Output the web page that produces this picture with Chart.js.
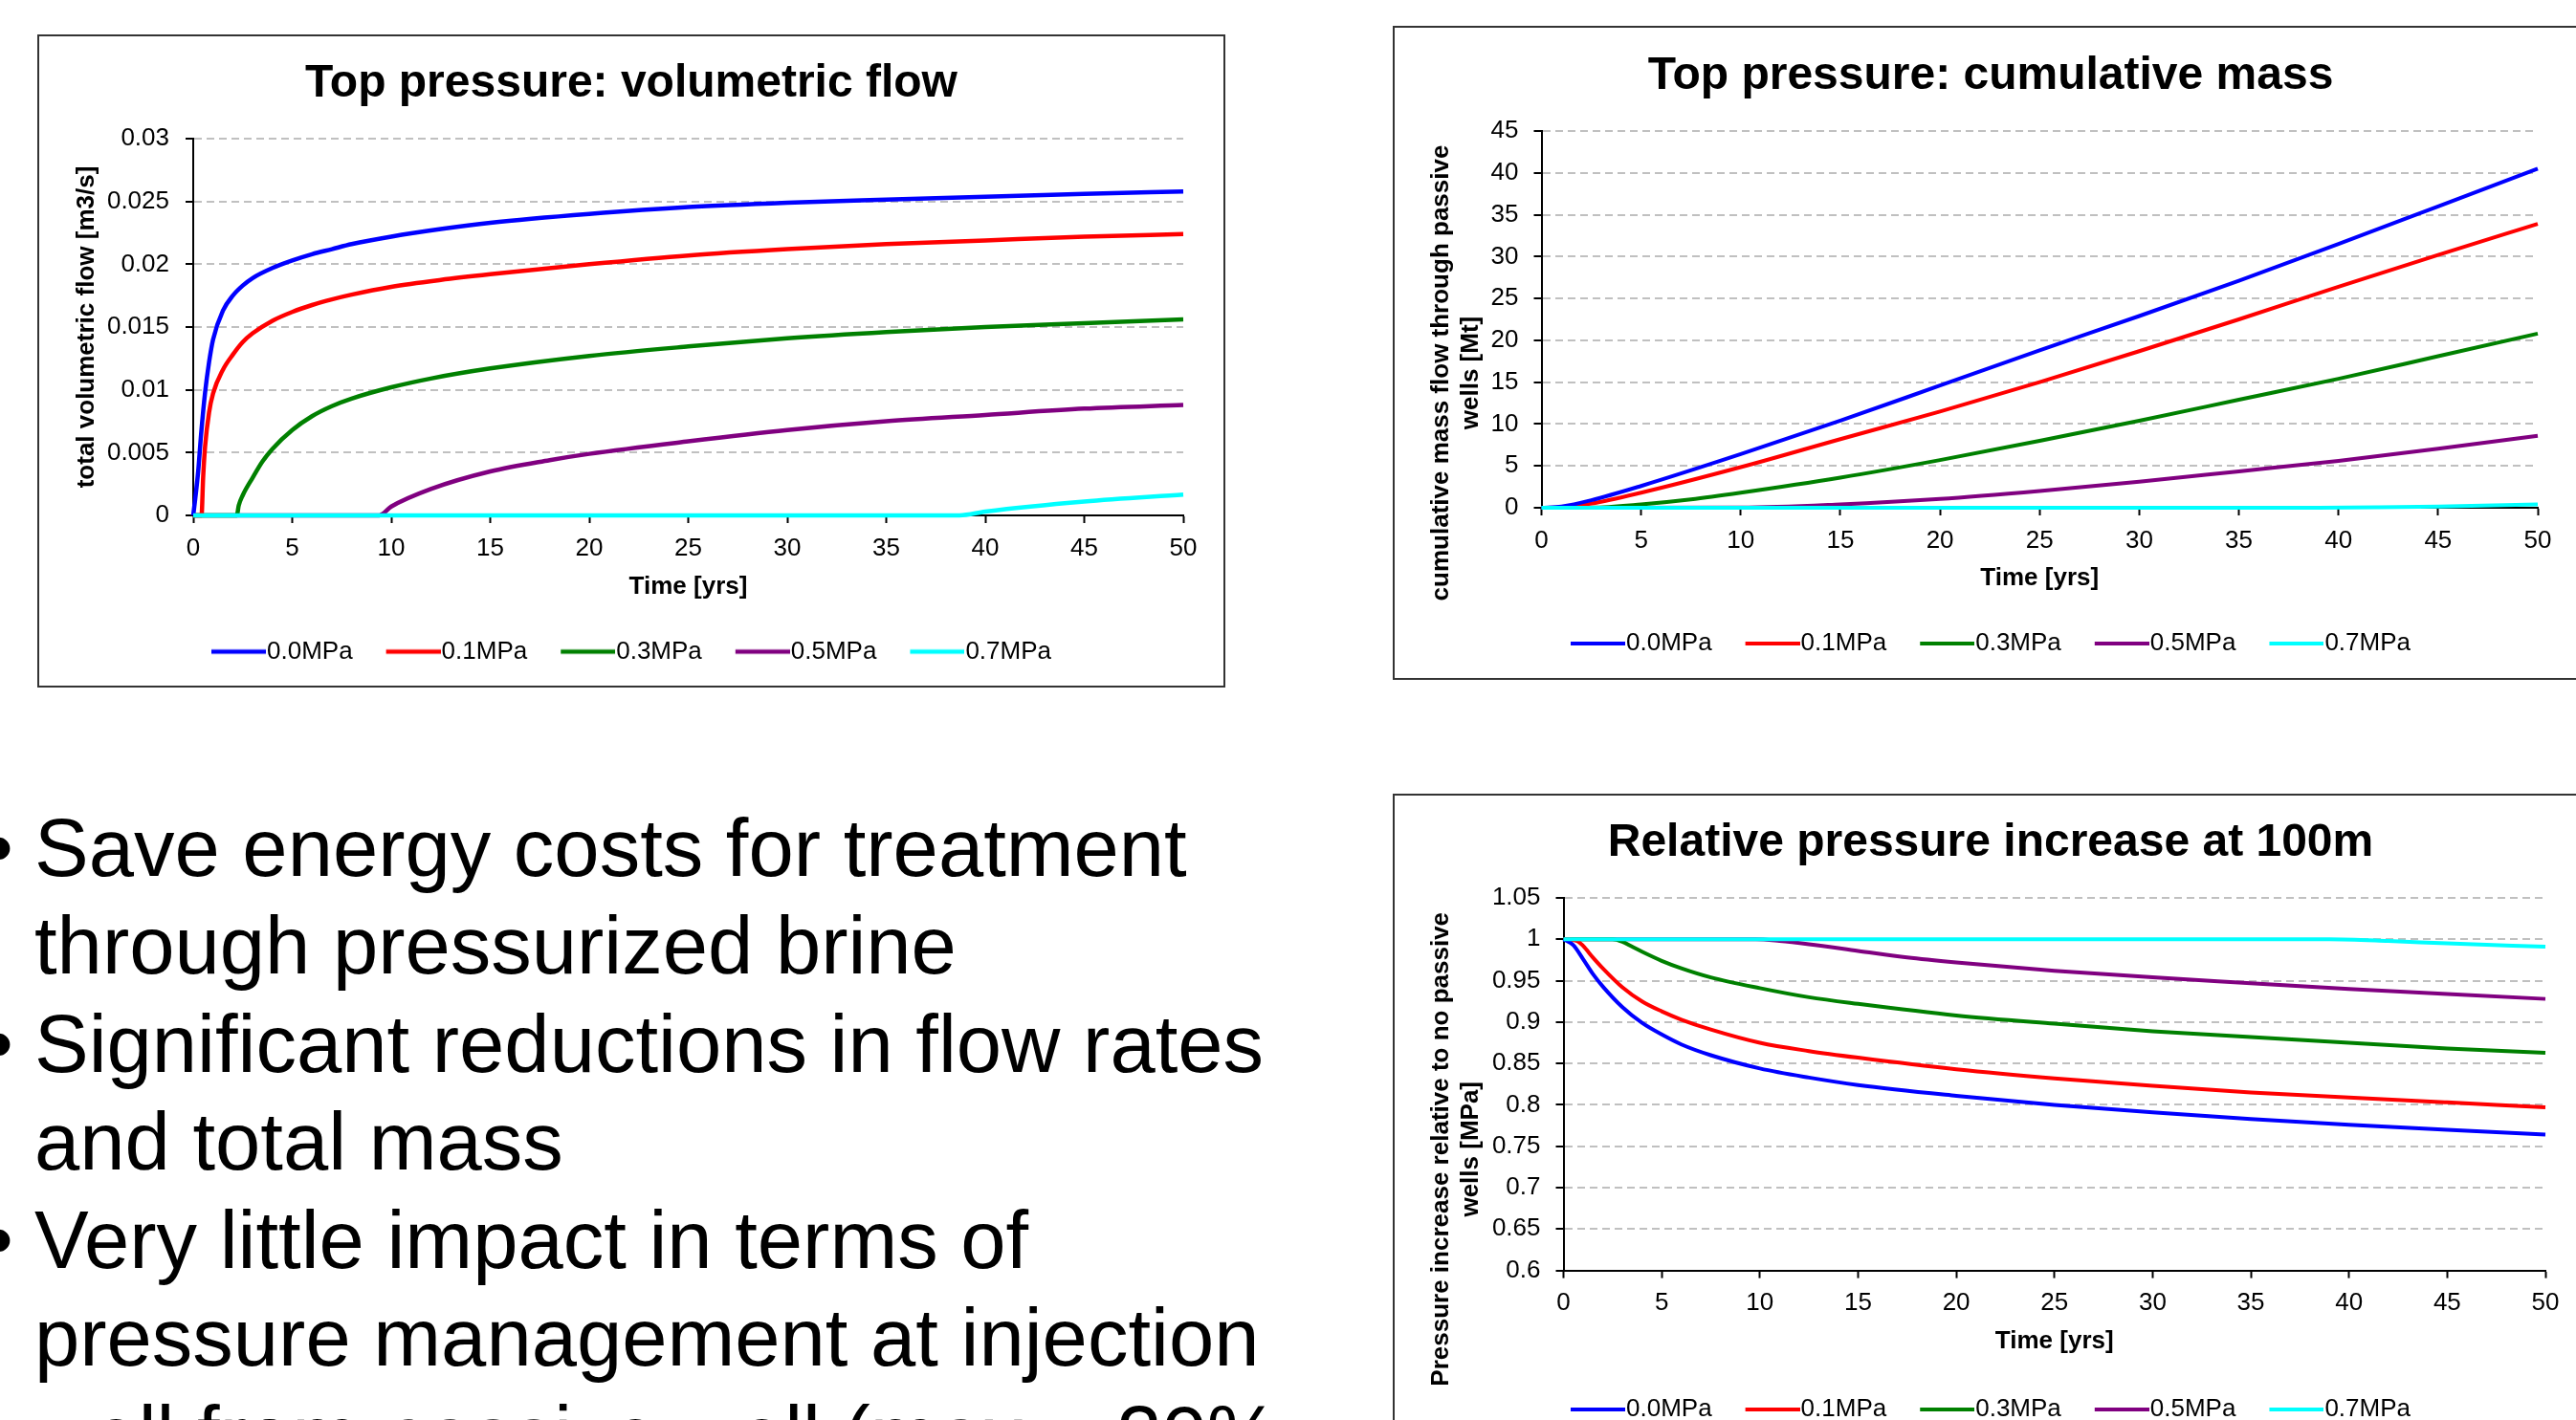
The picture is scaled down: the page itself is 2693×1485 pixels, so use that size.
<!DOCTYPE html>
<html>
<head>
<meta charset="utf-8">
<title>Passive wells: top pressure results</title>
<script src="https://cdn.jsdelivr.net/npm/chart.js@4"></script>
<style>
  html, body { margin: 0; padding: 0; background: #fff; }
  body { width: 2693px; height: 1485px; overflow: hidden; position: relative; font-family: "Liberation Sans", Arial, sans-serif; }
  .box { position: absolute; border: 2px solid #333; background: #fff; }
  .box canvas { display: block; }
  #bullets { position: absolute; left: 36px; top: 836px; font-size: 85px; line-height: 102.4px; color: #000; white-space: nowrap; }
  #bullets div { position: relative; }
  #bullets .b::before { content: "\2022"; position: absolute; left: -52px; }
</style>
</head>
<body>

<div class="box" style="left:39px; top:36px;"><canvas id="chartFlow" width="1238" height="679"></canvas></div>
<div class="box" style="left:1456px; top:27px;"><canvas id="chartMass" width="1246" height="680"></canvas></div>
<div class="box" style="left:1456px; top:830px;"><canvas id="chartRel" width="1246" height="700"></canvas></div>

<div id="bullets">
  <div class="b">Save energy costs for treatment</div>
  <div>through pressurized brine</div>
  <div class="b">Significant reductions in flow rates</div>
  <div>and total mass</div>
  <div class="b">Very little impact in terms of</div>
  <div>pressure management at injection</div>
  <div>well from passive well (max. ~20%</div>
</div>

<script>
  const seriesNames = ['0.0MPa', '0.1MPa', '0.3MPa', '0.5MPa', '0.7MPa'];
  const seriesColors = ['#0000ff', '#ff0000', '#008000', '#800080', '#00ffff'];
  const timeTicks = [0, 5, 10, 15, 20, 25, 30, 35, 40, 45, 50];

  // top pressure: volumetric flow [m3/s], points are [time yrs, value]
  const flow00 = [[0, 0], [0.1, 0.0013], [0.25, 0.0035], [0.4, 0.0065], [0.6, 0.0098], [0.8, 0.0122], [1, 0.014], [1.5, 0.0163], [2, 0.0175], [2.5, 0.0183], [3, 0.0189], [4, 0.0197], [5, 0.0203], [6, 0.0208], [7, 0.0212], [8, 0.0216], [10, 0.0222], [12.5, 0.0228], [15, 0.0233], [20, 0.024], [25, 0.02455], [30, 0.0249], [35, 0.02515], [40, 0.02538], [45, 0.0256], [50, 0.0258]];
  const flow01 = [[0, 0], [0.42, 0], [0.5, 0.003], [0.6, 0.0055], [0.8, 0.0082], [1, 0.0097], [1.5, 0.0116], [2, 0.0128], [2.5, 0.0138], [3, 0.0145], [4, 0.0155], [5, 0.0162], [6, 0.01675], [7, 0.0172], [8, 0.01758], [10, 0.0182], [12.5, 0.01875], [15, 0.0192], [20, 0.02], [25, 0.0207], [30, 0.0212], [35, 0.0216], [40, 0.0219], [45, 0.0222], [50, 0.0224]];
  const flow03 = [[0, 0], [2.2, 0], [2.3, 0.0008], [2.5, 0.0016], [3, 0.003], [3.5, 0.0043], [4, 0.0053], [5, 0.0068], [6, 0.0079], [7, 0.0087], [8, 0.0093], [10, 0.0102], [12, 0.0109], [15, 0.0117], [20, 0.0127], [25, 0.01345], [30, 0.0141], [35, 0.0146], [40, 0.015], [45, 0.0153], [50, 0.0156]];
  const flow05 = [[0, 0], [9.4, 0], [10, 0.0007], [12, 0.0021], [15, 0.0035], [18, 0.0044], [20, 0.0049], [25, 0.0059], [30, 0.0068], [35, 0.0075], [40, 0.008], [45, 0.0085], [50, 0.0088]];
  const flow07 = [[0, 0], [38.7, 0], [40, 0.0003], [45, 0.0011], [50, 0.00165]];
  const flowTicks = [0, 0.005, 0.01, 0.015, 0.02, 0.025, 0.03];
  const flowTickLabels = ['0', '0.005', '0.01', '0.015', '0.02', '0.025', '0.03'];

  // top pressure: cumulative mass [Mt]
  const mass00 = [[0, 0], [1, 0.15], [2.5, 0.9], [5, 2.6], [10, 6.4], [15, 10.4], [20, 14.6], [25, 18.8], [30, 22.9], [35, 27.1], [40, 31.5], [45, 36], [50, 40.5]];
  const mass01 = [[0, 0], [1, 0.05], [2.5, 0.5], [5, 1.8], [10, 4.85], [15, 8.2], [20, 11.5], [25, 15], [30, 18.7], [35, 22.5], [40, 26.4], [45, 30.2], [50, 33.9]];
  const mass03 = [[0, 0], [2.5, 0.02], [5, 0.4], [7.5, 1], [10, 1.8], [15, 3.6], [20, 5.7], [25, 8], [30, 10.4], [35, 12.9], [40, 15.4], [45, 18.1], [50, 20.8]];
  const mass05 = [[0, 0], [10, 0.02], [15, 0.4], [20, 1.05], [25, 2], [30, 3.1], [35, 4.35], [40, 5.6], [45, 7.05], [50, 8.6]];
  const mass07 = [[0, 0], [39, 0], [42, 0.05], [45, 0.15], [50, 0.4]];
  const massTicks = [0, 5, 10, 15, 20, 25, 30, 35, 40, 45];
  const massTickLabels = ['0', '5', '10', '15', '20', '25', '30', '35', '40', '45'];

  // relative pressure increase at 100m
  const rel00 = [[0, 1], [0.5, 0.993], [1, 0.976], [1.5, 0.958], [2, 0.943], [3, 0.918], [4, 0.899], [5, 0.885], [6, 0.873], [7.5, 0.86], [10, 0.844], [12.5, 0.833], [15, 0.824], [20, 0.811], [25, 0.8], [30, 0.791], [35, 0.783], [40, 0.776], [45, 0.77], [50, 0.764]];
  const rel01 = [[0, 1], [0.7, 0.998], [1, 0.992], [1.5, 0.978], [2, 0.965], [3, 0.942], [4, 0.925], [5, 0.913], [6, 0.903], [7.5, 0.891], [10, 0.875], [12.5, 0.865], [15, 0.857], [20, 0.843], [25, 0.832], [30, 0.823], [35, 0.815], [40, 0.809], [45, 0.803], [50, 0.797]];
  const rel03 = [[0, 1], [2.5, 1], [3, 0.997], [3.5, 0.991], [4, 0.985], [5, 0.974], [6, 0.965], [7.5, 0.954], [10, 0.941], [12.5, 0.93], [15, 0.922], [20, 0.908], [25, 0.898], [30, 0.889], [35, 0.882], [40, 0.875], [45, 0.868], [50, 0.863]];
  const rel05 = [[0, 1], [9.8, 1], [11, 0.998], [12.5, 0.994], [15, 0.986], [17.5, 0.978], [20, 0.972], [25, 0.962], [30, 0.954], [35, 0.947], [40, 0.94], [45, 0.934], [50, 0.928]];
  const rel07 = [[0, 1], [39, 1], [42, 0.998], [45, 0.995], [50, 0.991]];
  const relTicks = [0.6, 0.65, 0.7, 0.75, 0.8, 0.85, 0.9, 0.95, 1, 1.05];
  const relTickLabels = ['0.6', '0.65', '0.7', '0.75', '0.8', '0.85', '0.9', '0.95', '1', '1.05'];

  const fontFamily = '"Liberation Sans", Arial, sans-serif';
  Chart.defaults.font.family = fontFamily;
  Chart.defaults.color = '#000';

  // legend swatch: a short line that runs right up to the label text
  function legendLine(color, width) {
    const c = document.createElement('canvas');
    c.width = 69;
    c.height = 10;
    const g = c.getContext('2d');
    g.strokeStyle = color;
    g.lineWidth = width;
    g.beginPath();
    g.moveTo(12, 5);
    g.lineTo(69, 5);
    g.stroke();
    return c;
  }

  // rotated (possibly two-line) y axis title, placed like the Excel original
  const yTitle = {
    id: 'yTitle',
    afterDraw(chart, args, o) {
      const {ctx, chartArea} = chart;
      const cy = (chartArea.top + chartArea.bottom) / 2 + o.dy;
      ctx.save();
      ctx.font = 'bold 26px ' + fontFamily;
      ctx.fillStyle = '#000';
      ctx.textAlign = 'center';
      ctx.textBaseline = 'middle';
      o.lines.forEach((line, i) => {
        ctx.save();
        ctx.translate(chartArea.left + o.dx + i * 30.6, cy);
        ctx.rotate(-Math.PI / 2);
        ctx.fillText(line, 0, 0);
        ctx.restore();
      });
      ctx.restore();
    }
  };

  function buildChart(id, cfg) {
    return new Chart(document.getElementById(id), {
      type: 'line',
      data: {
        datasets: cfg.series.map((pts, i) => ({
          label: seriesNames[i],
          data: pts.map(p => ({x: p[0], y: p[1]})),
          borderColor: seriesColors[i],
          backgroundColor: seriesColors[i],
          borderWidth: cfg.lineWidth,
          pointRadius: 0,
          pointStyle: legendLine(seriesColors[i], cfg.lineWidth),
          cubicInterpolationMode: 'monotone',
          fill: false,
          clip: false,
          order: i === 4 ? -1 : 0
        }))
      },
      options: {
        responsive: false,
        animation: false,
        devicePixelRatio: 1,
        layout: { padding: { bottom: cfg.padBottom } },
        plugins: {
          tooltip: { enabled: false },
          title: {
            display: true, text: cfg.title, color: '#000',
            font: { size: 48, weight: 'bold', lineHeight: 1 },
            padding: { top: cfg.titleTop, bottom: cfg.titleBottom }
          },
          legend: {
            position: 'bottom',
            labels: {
              usePointStyle: true, pointStyleWidth: 45,
              padding: 35, color: '#000', font: { size: 26 },
              sort: (a, b) => a.datasetIndex - b.datasetIndex
            }
          },
          yTitle: { lines: cfg.yTitle, dx: cfg.yTitleDx, dy: cfg.yTitleDy }
        },
        scales: {
          x: {
            type: 'linear', min: 0, max: 50,
            afterBuildTicks: s => { s.ticks = timeTicks.map(v => ({value: v})); },
            afterFit: s => { s.height = cfg.xHeight; },
            ticks: { autoSkip: false, maxRotation: 0, padding: cfg.xTickPad, color: '#000', font: { size: 26, lineHeight: 1 } },
            grid: { display: true, drawOnChartArea: false, drawTicks: true, tickLength: 8, tickColor: '#000', tickWidth: 2 },
            border: { display: true, color: '#000', width: 2 },
            title: {
              display: true, text: 'Time [yrs]', color: '#000',
              font: { size: 26, weight: 'bold', lineHeight: 1 },
              padding: { top: 0, bottom: cfg.xTitlePad }
            }
          },
          y: {
            type: 'linear', min: cfg.yTicks[0], max: cfg.yTicks[cfg.yTicks.length - 1],
            afterBuildTicks: s => { s.ticks = cfg.yTicks.map(v => ({value: v})); },
            afterFit: s => { s.width = cfg.left; },
            ticks: { autoSkip: false, padding: cfg.yTickPad, color: '#000', font: { size: 26, lineHeight: 1 }, callback: (v, i) => cfg.yLabels[i] },
            grid: { color: '#c0c0c0', lineWidth: 2, drawTicks: true, tickLength: 8, tickColor: '#000', tickWidth: 2, tickBorderDash: [] },
            border: { display: true, color: '#000', width: 2, dash: [8, 5] }
          },
          pad: {
            type: 'linear', position: 'right', display: true,
            ticks: { display: false }, grid: { display: false }, border: { display: false },
            afterFit: s => { s.width = cfg.rightGap; }
          }
        }
      },
      plugins: [yTitle]
    });
  }

  buildChart('chartFlow', {
    title: 'Top pressure: volumetric flow',
    series: [flow00, flow01, flow03, flow05, flow07],
    yTicks: flowTicks, yLabels: flowTickLabels,
    yTitle: ['total volumetric flow [m3/s]'], yTitleDx: -111, yTitleDy: 0,
    lineWidth: 4.5, left: 161, rightGap: 42,
    titleTop: 26, titleBottom: 33, padBottom: 12.5,
    xHeight: 94.5, xTickPad: 13.7, xTitlePad: 7.1, yTickPad: 17
  });

  buildChart('chartMass', {
    title: 'Top pressure: cumulative mass',
    series: [mass00, mass01, mass03, mass05, mass07],
    yTicks: massTicks, yLabels: massTickLabels,
    yTitle: ['cumulative mass flow through passive', 'wells [Mt]'], yTitleDx: -104.5, yTitleDy: 56,
    lineWidth: 4, left: 153.5, rightGap: 51,
    titleTop: 27, titleBottom: 33, padBottom: 13,
    xHeight: 94, xTickPad: 13.5, xTitlePad: 7.5, yTickPad: 16
  });

  buildChart('chartRel', {
    title: 'Relative pressure increase at 100m',
    series: [rel00, rel01, rel03, rel05, rel07],
    yTicks: relTicks, yLabels: relTickLabels,
    yTitle: ['Pressure increase relative to no passive', 'wells [MPa]'], yTitleDx: -127.5, yTitleDy: 68,
    lineWidth: 4, left: 176.5, rightGap: 43,
    titleTop: 26, titleBottom: 33, padBottom: 35,
    xHeight: 97.4, xTickPad: 13, xTitlePad: 10, yTickPad: 16
  });
</script>
</body>
</html>
